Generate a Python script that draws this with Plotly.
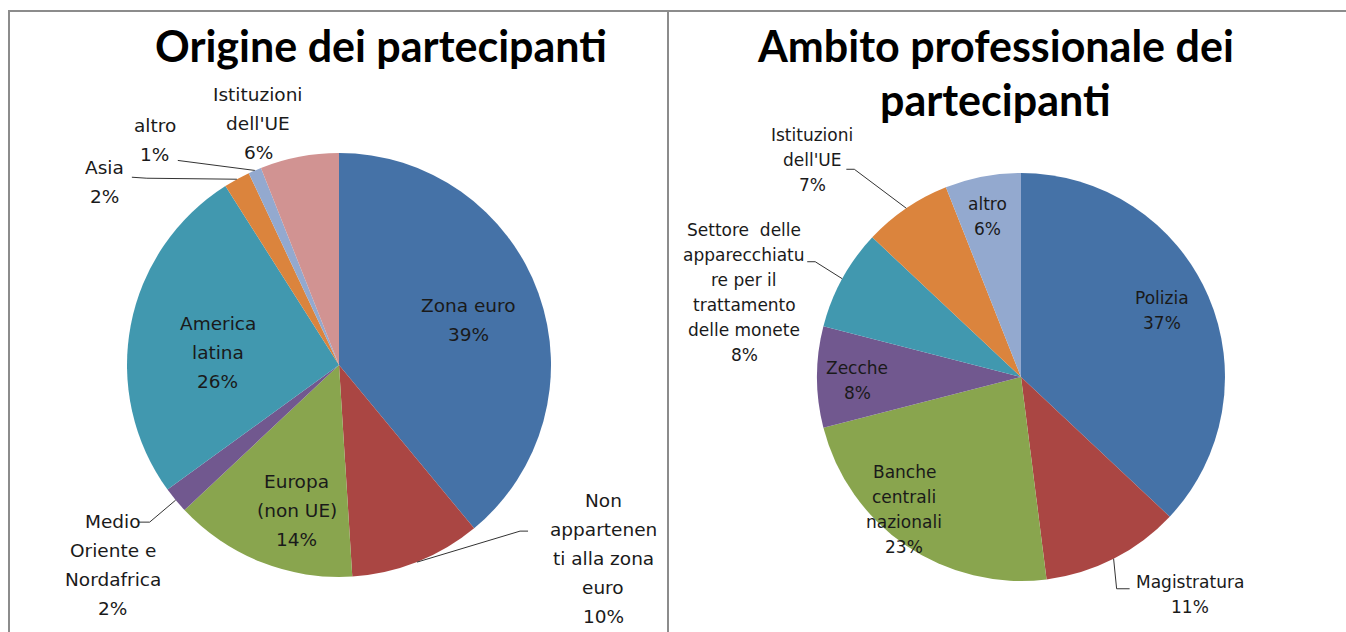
import math
import plotly.graph_objects as go

# ---------------- data ----------------
left_title = "Origine dei partecipanti"
left_categories = ["Zona euro", "Non appartenenti alla zona euro", "Europa (non UE)",
                   "Medio Oriente e Nordafrica", "America latina", "Asia", "altro",
                   "Istituzioni dell'UE"]
left_display = ["Zona euro", "Non<br>appartenen<br>ti alla zona<br>euro", "Europa<br>(non UE)",
                "Medio<br>Oriente e<br>Nordafrica", "America<br>latina", "Asia", "altro",
                "Istituzioni<br>dell'UE"]
left_values = [39, 10, 14, 2, 26, 2, 1, 6]

right_title = ["Ambito professionale dei", "partecipanti"]
right_categories = ["Polizia", "Magistratura", "Banche centrali nazionali", "Zecche",
                    "Settore delle apparecchiature per il trattamento delle monete",
                    "Istituzioni dell'UE", "altro"]
right_display = ["Polizia", "Magistratura", "Banche<br>centrali<br>nazionali", "Zecche",
                 "Settore&nbsp; delle<br>apparecchiatu<br>re per il<br>trattamento<br>delle monete",
                 "Istituzioni<br>dell'UE", "altro"]
right_values = [37, 11, 23, 8, 8, 7, 6]

# ---------------- styles / layout ----------------
W, H = 1346, 632
left_colors = ["#4572A7", "#AA4643", "#89A54E", "#71588F", "#4198AF", "#DB843D", "#93A9CF", "#D19392"]
right_colors = ["#4572A7", "#AA4643", "#89A54E", "#71588F", "#4198AF", "#DB843D", "#93A9CF"]

LEFT_PIE = dict(cx=339, cy=365, r=212)
RIGHT_PIE = dict(cx=1021, cy=377, r=204)

# text centre offset (px) from the slice's outer mid-point
left_text_off = [(-70, 27), (186, -4), (36, -52), (-63, 65), (87, 27), (-132, 3), (-100, -30), (-41, -33)]
right_text_off = [(-46, 15), (76, 36), (-2, -36), (40, 3), (-98, 14), (-94, -48), (5, 40)]
# leader line vertices (px offsets from the slice's outer mid-point)
left_leaders = [None, [(103, -31), (111, -31)], None, [(-26, 22), (-38, 22)], None,
                [(-90, -1), (-105, -2)], [(-77, -10)], None]
right_leaders = [None, [(3, 30), (16, 30)], None, None, [(-27, -17), (-35, -17)],
                 [(-52, -39), (-60, -39)], None]

LABEL_FAMILY = "'DejaVu Sans', Verdana, sans-serif"
FONT_L = dict(family=LABEL_FAMILY, size=18.5, color="#1a1a1a")
FONT_R = dict(family=LABEL_FAMILY, size=17, color="#1a1a1a")
LINE_L, LINE_R = 29, 25


def px2paper(x, y):
    return x / W, 1 - y / H


def domain(p):
    x0, y1 = px2paper(p["cx"] - p["r"], p["cy"] - p["r"])
    x1, y0 = px2paper(p["cx"] + p["r"], p["cy"] + p["r"])
    return dict(x=[x0, x1], y=[y0, y1])


fig = go.Figure()
fig.add_trace(go.Pie(labels=left_categories, values=left_values, sort=False,
                     direction="clockwise", rotation=0, textinfo="none",
                     marker=dict(colors=left_colors, line=dict(width=0)),
                     domain=domain(LEFT_PIE), hoverinfo="label+percent"))
fig.add_trace(go.Pie(labels=right_categories, values=right_values, sort=False,
                     direction="clockwise", rotation=0, textinfo="none",
                     marker=dict(colors=right_colors, line=dict(width=0)),
                     domain=domain(RIGHT_PIE), hoverinfo="label+percent"))

annotations = []
shapes = []


def add_labels(p, values, display, offs, leaders, font, lh):
    total = sum(values)
    cum = 0
    for v, txt, off, lead in zip(values, display, offs, leaders):
        mid = 2 * math.pi * (cum + v / 2) / total
        cum += v
        ex = p["cx"] + p["r"] * math.sin(mid)
        ey = p["cy"] - p["r"] * math.cos(mid)
        lines = txt.split("<br>") + [f"{round(v / total * 100)}%"]
        tx, ty = ex + off[0], ey + off[1]
        n = len(lines)
        for k, line in enumerate(lines):
            ly = ty + (k - (n - 1) / 2) * lh
            x, y = px2paper(tx, ly)
            annotations.append(dict(x=x, y=y, xref="paper", yref="paper", text=line,
                                    showarrow=False, xanchor="center", yanchor="middle",
                                    font=font))
        if lead:
            pts = [(ex, ey)] + [(ex + a, ey + b) for a, b in lead]
            path = ""
            for i, (a, b) in enumerate(pts):
                xp, yp = px2paper(a, b)
                path += ("M" if i == 0 else "L") + f"{xp},{yp} "
            shapes.append(dict(type="path", path=path, xref="paper", yref="paper",
                               line=dict(color="#333333", width=1)))


add_labels(LEFT_PIE, left_values, left_display, left_text_off, left_leaders, FONT_L, LINE_L)
add_labels(RIGHT_PIE, right_values, right_display, right_text_off, right_leaders, FONT_R, LINE_R)

TITLE_FONT = dict(family="Lato, 'Open Sans', sans-serif", size=43, color="#000000")
x, y = px2paper(381, 45)
annotations.append(dict(x=x, y=y, xref="paper", yref="paper", text=f"<b>{left_title}</b>",
                        showarrow=False, xanchor="center", yanchor="middle", font=TITLE_FONT))
for k, t in enumerate(right_title):
    x, y = px2paper(995, 45 + 55 * k)
    annotations.append(dict(x=x, y=y, xref="paper", yref="paper", text=f"<b>{t}</b>",
                            showarrow=False, xanchor="center", yanchor="middle", font=TITLE_FONT))

# outer frame and divider
bx0, by1 = px2paper(9, 11)
shapes.append(dict(type="rect", xref="paper", yref="paper", x0=bx0, x1=1.05, y0=-0.05, y1=by1,
                   line=dict(color="#8c8c8c", width=2), fillcolor="rgba(0,0,0,0)"))
dx, _ = px2paper(668, 0)
shapes.append(dict(type="line", xref="paper", yref="paper", x0=dx, x1=dx, y0=-0.05, y1=by1,
                   line=dict(color="#8c8c8c", width=2)))

fig.update_layout(width=W, height=H, margin=dict(l=0, r=0, t=0, b=0),
                  paper_bgcolor="white", plot_bgcolor="white", showlegend=False,
                  annotations=annotations, shapes=shapes)

fig.write_html("out.html", config={"displayModeBar": False},
               post_script="document.body.style.margin='0';document.body.style.overflow='hidden';")
